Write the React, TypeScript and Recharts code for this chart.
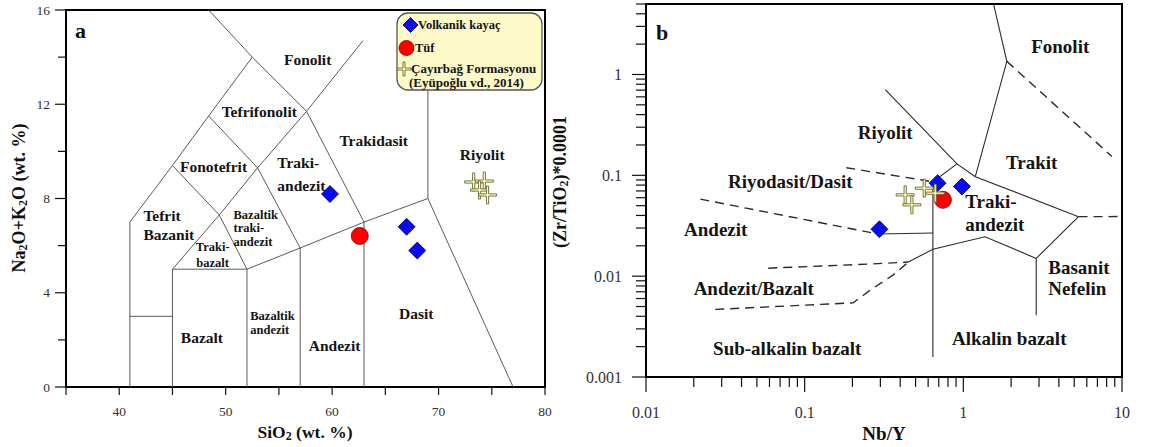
import React from 'react';
import { ScatterChart, Scatter, XAxis, YAxis, ReferenceArea } from 'recharts';

const SERIF = '"Liberation Serif", "Times New Roman", Times, serif';

// ---------------- Panel a : TAS (SiO2 vs Na2O+K2O) ----------------
const tasXTicks = [35, 40, 45, 50, 55, 60, 65, 70, 75, 80];
const tasXLabels = [40, 50, 60, 70, 80];
const tasYTicks = [0, 2, 4, 6, 8, 10, 12, 14, 16];
const tasYLabels = [0, 4, 8, 12, 16];

const tasVolkanik = [
  { x: 59.8, y: 8.19 },
  { x: 67.0, y: 6.8 },
  { x: 68.0, y: 5.79 },
];
const tasTuf = [{ x: 62.6, y: 6.41 }];
const tasCayirbag = [
  { x: 73.3, y: 8.7 },
  { x: 74.3, y: 8.74 },
  { x: 73.85, y: 8.36 },
  { x: 74.6, y: 8.15 },
];

const tasBoundaries: number[][][] = [
  [[48.4, 16], [52.5, 14], [57.6, 11.7], [63, 7], [63, 0]],
  [[41, 0], [41, 7], [45, 9.4], [48.4, 11.5], [52.5, 14]],
  [[41, 3], [45, 3]],
  [[45, 0], [45, 5], [52, 5], [52, 0]],
  [[45, 9.4], [49.4, 7.3], [53, 9.3], [57.6, 11.7], [62.9, 14.7]],
  [[48.4, 11.5], [53, 9.3], [57, 5.9], [57, 0]],
  [[45, 5], [49.4, 7.3], [52, 5]],
  [[52, 5], [57, 5.9], [63, 7], [69, 8], [77, 0]],
  [[69, 8], [69, 13.5]],
];

const tasNames = [
  { x: 57.7, y: 13.88, t: 'Fonolit' },
  { x: 53.16, y: 11.69, t: 'Tefrifonolit' },
  { x: 48.86, y: 9.35, t: 'Fonotefrit' },
  { x: 63.91, y: 10.48, t: 'Trakidasit' },
  { x: 74.1, y: 9.85, t: 'Riyolit' },
  { x: 47.77, y: 2.11, t: 'Bazalt' },
  { x: 67.91, y: 3.1, t: 'Dasit' },
  { x: 60.23, y: 1.78, t: 'Andezit' },
];
const tasNamesLeft = [
  { x: 54.85, y: 9.51, t: 'Traki-' },
  { x: 54.85, y: 8.57, t: 'andezit' },
  { x: 42.27, y: 7.26, t: 'Tefrit' },
  { x: 42.27, y: 6.49, t: 'Bazanit' },
];
const tasSmallLeft = [
  { x: 50.74, y: 7.3, t: 'Bazaltik' },
  { x: 50.74, y: 6.74, t: 'traki-' },
  { x: 50.74, y: 6.14, t: 'andezit' },
  { x: 52.31, y: 3.01, t: 'Bazaltik' },
  { x: 52.31, y: 2.42, t: 'andezit' },
];
const tasSmallMid = [
  { x: 48.78, y: 5.93, t: 'Traki-' },
  { x: 48.78, y: 5.28, t: 'bazalt' },
];

// ---------------- Panel b : Zr/TiO2 vs Nb/Y ----------------
const wfXTicks = [
  0.01, 0.02, 0.03, 0.04, 0.05, 0.06, 0.07, 0.08, 0.09,
  0.1, 0.2, 0.3, 0.4, 0.5, 0.6, 0.7, 0.8, 0.9,
  1, 2, 3, 4, 5, 6, 7, 8, 9, 10,
];
const wfXLabels = [0.01, 0.1, 1, 10];
const wfYTicks = [
  0.001, 0.002, 0.003, 0.004, 0.005, 0.006, 0.007, 0.008, 0.009,
  0.01, 0.02, 0.03, 0.04, 0.05, 0.06, 0.07, 0.08, 0.09,
  0.1, 0.2, 0.3, 0.4, 0.5, 0.6, 0.7, 0.8, 0.9,
  1, 2, 3, 4, 5,
];
const wfYLabels = [0.001, 0.01, 0.1, 1];

const wfVolkanik = [
  { x: 0.296, y: 0.0292 },
  { x: 0.688, y: 0.0836 },
  { x: 0.98, y: 0.0774 },
];
const wfTuf = [{ x: 0.744, y: 0.0571 }];
const wfCayirbag = [
  { x: 0.43, y: 0.064 },
  { x: 0.474, y: 0.051 },
  { x: 0.567, y: 0.0746 },
  { x: 0.665, y: 0.0665 },
];

const wfSolid: number[][][] = [
  [[1.55, 5], [1.88, 1.35], [1.19, 0.097]],
  [[0.322, 0.708], [0.912, 0.13], [1.19, 0.097], [5.32, 0.0389]],
  [[5.32, 0.0389], [2.88, 0.015], [2.88, 0.0041]],
  [[2.88, 0.015], [1.37, 0.0246], [0.643, 0.0185], [0.45, 0.0138]],
  [[0.643, 0.00158], [0.643, 0.0862], [0.912, 0.13]],
  [[0.291, 0.0262], [0.643, 0.0268]],
];
const wfDashed: number[][][] = [
  [[1.88, 1.35], [8.63, 0.154]],
  [[5.32, 0.0389], [10, 0.039]],
  [[0.183, 0.119], [0.643, 0.0862]],
  [[0.022, 0.058], [0.291, 0.0262]],
  [[0.059, 0.012], [0.259, 0.0132], [0.45, 0.0138]],
  [[0.0273, 0.00468], [0.202, 0.00544], [0.259, 0.00727], [0.362, 0.0103], [0.45, 0.0138]],
];

const wfNames = [
  { x: 4.08, y: 1.893, t: 'Fonolit' },
  { x: 0.322, y: 0.2644, t: 'Riyolit' },
  { x: 2.7, y: 0.1331, t: 'Trakit' },
  { x: 0.0811, y: 0.0862, t: 'Riyodasit/Dasit' },
  { x: 0.0275, y: 0.0287, t: 'Andezit' },
  { x: 0.0478, y: 0.00762, t: 'Andezit/Bazalt' },
  { x: 0.0777, y: 0.00193, t: 'Sub-alkalin bazalt' },
  { x: 1.946, y: 0.00243, t: 'Alkalin bazalt' },
];
const wfNamesLeft = [
  { x: 1.028, y: 0.0545, t: 'Traki-' },
  { x: 1.028, y: 0.0322, t: 'andezit' },
  { x: 3.43, y: 0.0123, t: 'Basanit' },
  { x: 3.43, y: 0.00762, t: 'Nefelin' },
];

// ---------------- helpers ----------------
const toPoints = (pts: number[][]) => pts.map((p) => ({ x: p[0], y: p[1] }));

const isIn = (v: number, list: number[]) =>
  list.some((l) => Math.abs(v - l) <= Math.abs(l) * 1e-6 + 1e-12);

const BottomTick = (p: any) => {
  const { x, y, payload, labels, major, minor, gap, fs } = p;
  const v = payload.value;
  const lab = isIn(v, labels);
  return (
    <g>
      <line x1={x} y1={y} x2={x} y2={y + (lab ? major : minor)} stroke="#111" strokeWidth={1.2} />
      {lab && (
        <text x={x} y={y + gap} textAnchor="middle" dominantBaseline="central" fontFamily={SERIF} fontSize={fs} fill="#333">
          {String(v)}
        </text>
      )}
    </g>
  );
};

const LeftTick = (p: any) => {
  const { x, y, payload, labels, major, minor, gap, fs } = p;
  const v = payload.value;
  const lab = isIn(v, labels);
  return (
    <g>
      <line x1={x} y1={y} x2={x - (lab ? major : minor)} y2={y} stroke="#111" strokeWidth={1.2} />
      {lab && (
        <text x={x - gap} y={y} textAnchor="end" dominantBaseline="central" fontFamily={SERIF} fontSize={fs} fill="#333">
          {String(v)}
        </text>
      )}
    </g>
  );
};

const DiamondMark = ({ cx, cy, r = 8.5 }: any) => (
  <polygon
    points={`${cx},${cy - r} ${cx + r},${cy} ${cx},${cy + r} ${cx - r},${cy}`}
    fill="#0a0af0"
    stroke="#00004a"
    strokeWidth={0.8}
  />
);
const CircleMark = ({ cx, cy, r = 8.5 }: any) => (
  <circle cx={cx} cy={cy} r={r} fill="#ff0000" stroke="#7a0000" strokeWidth={0.8} />
);
const CrossMark = ({ cx, cy, a = 9, t = 1.1 }: any) => {
  const pts = [
    [cx - t, cy - a], [cx + t, cy - a], [cx + t, cy - t], [cx + a, cy - t],
    [cx + a, cy + t], [cx + t, cy + t], [cx + t, cy + a], [cx - t, cy + a],
    [cx - t, cy + t], [cx - a, cy + t], [cx - a, cy - t], [cx - t, cy - t],
  ];
  return <polygon points={pts.map((q) => q.join(',')).join(' ')} fill="#ffffc0" stroke="#6a6630" strokeWidth={0.9} />;
};

const textShape = (fs: number, anchor: string) => (p: any) => (
  <text
    x={p.cx}
    y={p.cy}
    textAnchor={anchor}
    dominantBaseline="central"
    fontFamily={SERIF}
    fontWeight="bold"
    fontSize={fs}
    fill="#141414"
  >
    {p.payload.t}
  </text>
);

const dotShape = (Comp: any) => (p: any) => <Comp cx={p.cx} cy={p.cy} />;
const noShape = () => <g />;

// ---------------- charts ----------------
const PanelA = () => (
  <ScatterChart width={560} height={447} margin={{ top: 10, right: 15, bottom: 30, left: 16 }}>
    <XAxis
      type="number"
      dataKey="x"
      domain={[35, 80]}
      ticks={tasXTicks}
      interval={0}
      allowDataOverflow
      height={30}
      tickSize={0}
      tickMargin={0}
      tickLine={false}
      axisLine={{ stroke: '#000', strokeWidth: 2 }}
      tick={(p: any) => <BottomTick {...p} labels={tasXLabels} major={8} minor={8} gap={24.7} fs={13.5} />}
    />
    <YAxis
      type="number"
      dataKey="y"
      domain={[0, 16]}
      ticks={tasYTicks}
      interval={0}
      allowDataOverflow
      width={50}
      tickSize={0}
      tickMargin={0}
      tickLine={false}
      axisLine={{ stroke: '#000', strokeWidth: 2 }}
      tick={(p: any) => <LeftTick {...p} labels={tasYLabels} major={11} minor={8} gap={16} fs={13.5} />}
    />
    <ReferenceArea x1={35} x2={80} y1={0} y2={16} fill="none" stroke="#000" strokeWidth={2} />
    {tasBoundaries.map((poly, i) => (
      <Scatter
        key={`a${i}`}
        data={toPoints(poly)}
        line={{ stroke: '#5a5a5a', strokeWidth: 1 }}
        lineType="joint"
        shape={noShape}
        isAnimationActive={false}
      />
    ))}
    <Scatter data={tasNames} shape={textShape(15.5, 'middle')} isAnimationActive={false} />
    <Scatter data={tasNamesLeft} shape={textShape(15.5, 'start')} isAnimationActive={false} />
    <Scatter data={tasSmallLeft} shape={textShape(12.5, 'start')} isAnimationActive={false} />
    <Scatter data={tasSmallMid} shape={textShape(12.5, 'middle')} isAnimationActive={false} />
    <Scatter data={tasVolkanik} shape={dotShape(DiamondMark)} isAnimationActive={false} />
    <Scatter data={tasTuf} shape={dotShape(CircleMark)} isAnimationActive={false} />
    <Scatter data={tasCayirbag} shape={dotShape(CrossMark)} isAnimationActive={false} />
  </ScatterChart>
);

const PanelB = () => (
  <ScatterChart width={589} height={447} margin={{ top: 4, right: 27, bottom: 40, left: 26 }}>
    <XAxis
      type="number"
      dataKey="x"
      scale="log"
      domain={[0.01, 10]}
      ticks={wfXTicks}
      interval={0}
      allowDataOverflow
      height={30}
      tickSize={0}
      tickMargin={0}
      tickLine={false}
      axisLine={{ stroke: '#000', strokeWidth: 2 }}
      tick={(p: any) => <BottomTick {...p} labels={wfXLabels} major={15} minor={10} gap={35} fs={16} />}
    />
    <YAxis
      type="number"
      dataKey="y"
      scale="log"
      domain={[0.001, 5]}
      ticks={wfYTicks}
      interval={0}
      allowDataOverflow
      width={60}
      tickSize={0}
      tickMargin={0}
      tickLine={false}
      axisLine={{ stroke: '#000', strokeWidth: 2 }}
      tick={(p: any) => <LeftTick {...p} labels={wfYLabels} major={14} minor={10} gap={24} fs={16} />}
    />
    <ReferenceArea x1={0.01} x2={10} y1={0.001} y2={5} fill="none" stroke="#000" strokeWidth={2} />
    {wfSolid.map((poly, i) => (
      <Scatter
        key={`bs${i}`}
        data={toPoints(poly)}
        line={{ stroke: '#2a2a2a', strokeWidth: 1.1 }}
        lineType="joint"
        shape={noShape}
        isAnimationActive={false}
      />
    ))}
    {wfDashed.map((poly, i) => (
      <Scatter
        key={`bd${i}`}
        data={toPoints(poly)}
        line={{ stroke: '#2a2a2a', strokeWidth: 1.4, strokeDasharray: '9 6' }}
        lineType="joint"
        shape={noShape}
        isAnimationActive={false}
      />
    ))}
    <Scatter data={wfNames} shape={textShape(19, 'middle')} isAnimationActive={false} />
    <Scatter data={wfNamesLeft} shape={textShape(19, 'start')} isAnimationActive={false} />
    <Scatter data={wfVolkanik} shape={dotShape(DiamondMark)} isAnimationActive={false} />
    <Scatter data={wfTuf} shape={dotShape(CircleMark)} isAnimationActive={false} />
    <Scatter data={wfCayirbag} shape={dotShape(CrossMark)} isAnimationActive={false} />
  </ScatterChart>
);

const Overlay = () => (
  <svg
    width={1149}
    height={447}
    style={{ position: 'absolute', left: 0, top: 0, pointerEvents: 'none' }}
    fontFamily={SERIF}
    fontWeight="bold"
  >
    {/* panel letters */}
    <text x={75} y={38} fontSize={22} fill="#111">a</text>
    <text x={656} y={40} fontSize={22} fill="#111">b</text>

    {/* axis titles */}
    <text x={305} y={432} textAnchor="middle" dominantBaseline="central" fontSize={17.5} fill="#111">
      SiO<tspan dy={4} fontSize={12}>2</tspan>
      <tspan dy={-4}> (wt. %)</tspan>
    </text>
    <text transform="translate(19,198) rotate(-90)" textAnchor="middle" dominantBaseline="central" fontSize={18} fill="#111">
      Na<tspan dy={4} fontSize={12}>2</tspan>
      <tspan dy={-4}>O+K</tspan>
      <tspan dy={4} fontSize={12}>2</tspan>
      <tspan dy={-4}>O (wt. %)</tspan>
    </text>
    <text x={884} y={433} textAnchor="middle" dominantBaseline="central" fontSize={19} fill="#111">
      Nb/Y
    </text>
    <text transform="translate(560,182) rotate(-90)" textAnchor="middle" dominantBaseline="central" fontSize={18} fill="#111">
      (Zr/TiO<tspan dy={4} fontSize={12}>2</tspan>
      <tspan dy={-4}>)*0.0001</tspan>
    </text>

    {/* legend of panel a */}
    <rect x={397} y={13} width={145} height={77} rx={11} ry={11} fill="#fdf9c9" stroke="#555" strokeWidth={1.3} />
    <DiamondMark cx={410.5} cy={25} r={7.5} />
    <text x={418} y={25} dominantBaseline="central" fontSize={12.5} fill="#141414">Volkanik kayaç</text>
    <CircleMark cx={406.5} cy={48} r={7.5} />
    <text x={415} y={48} dominantBaseline="central" fontSize={12.5} fill="#141414">Tüf</text>
    <CrossMark cx={404} cy={69} a={7} t={1} />
    <text x={411} y={68} dominantBaseline="central" fontSize={13} fill="#141414">Çayırbağ Formasyonu</text>
    <text x={409} y={82} dominantBaseline="central" fontSize={13} fill="#141414">(Eyüpoğlu vd., 2014)</text>
  </svg>
);

export default function App() {
  return (
    <div style={{ position: 'absolute', left: 0, top: 0, width: 1149, height: 447, background: '#fff' }}>
      <div style={{ position: 'absolute', left: 0, top: 0 }}>
        <PanelA />
      </div>
      <div style={{ position: 'absolute', left: 560, top: 0 }}>
        <PanelB />
      </div>
      <Overlay />
    </div>
  );
}
